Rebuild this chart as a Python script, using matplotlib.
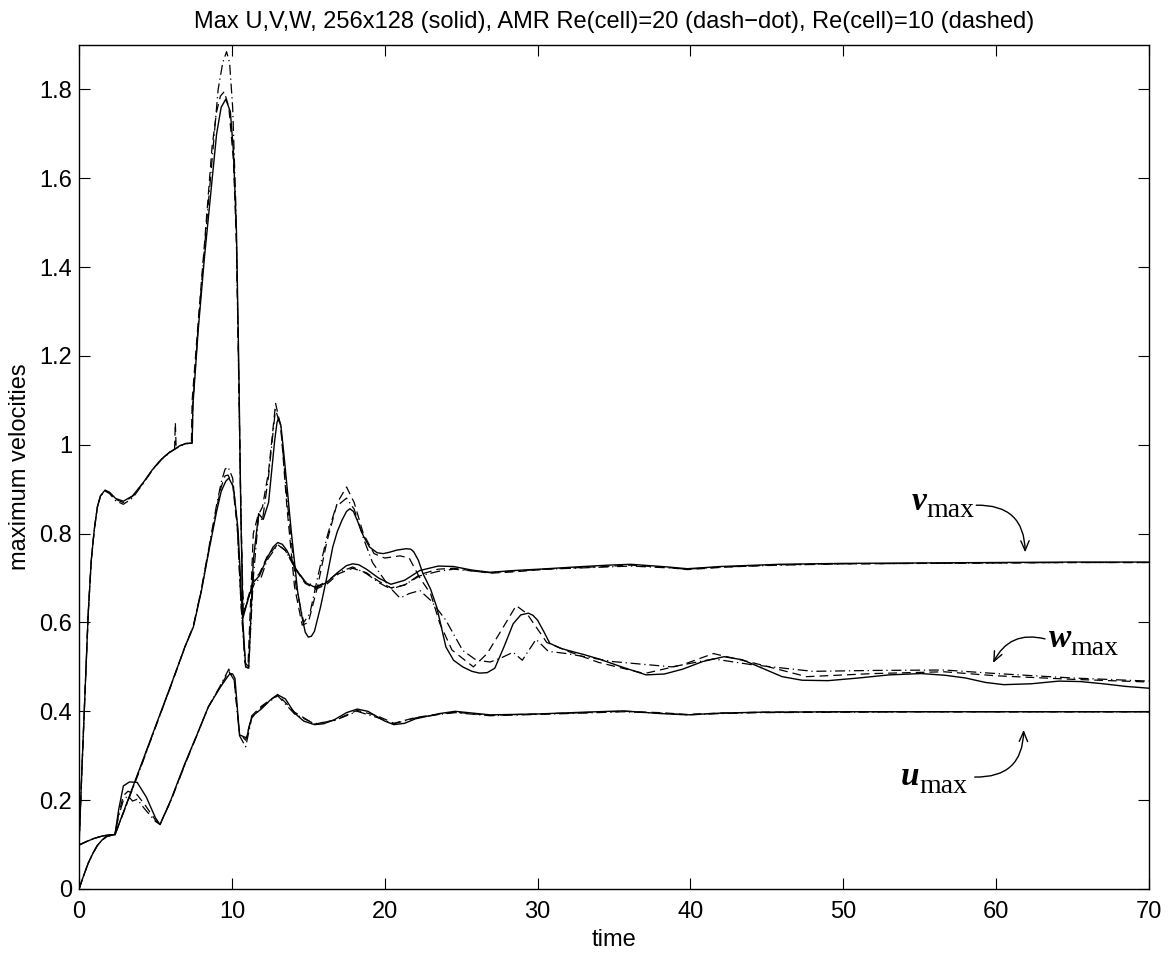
import matplotlib
matplotlib.use('Agg')
import matplotlib.pyplot as plt
import numpy as np

# ---- v_max ----
t_v = [0, 0.2, 0.4, 0.6, 0.8, 1.0, 1.2, 1.4, 1.7, 2.0,
       2.4, 2.9, 3.5, 4.2, 4.8, 5.4, 6.0, 6.6, 7.0, 7.4,
       7.45, 7.8, 8.2, 8.6, 9.0, 9.3, 9.6, 9.9, 10.1, 10.3,
       10.45, 10.58, 10.72, 11.0, 11.4, 11.8, 12.3, 12.7, 13.0, 13.3,
       13.6, 14.2, 14.8, 15.5, 16.2, 16.9, 17.5, 17.9, 18.3, 18.8,
       19.6, 20.4, 21.3, 22.3, 23.5, 24.5, 25.7, 26.9, 28.5, 30.6,
       33.0, 34.6, 36.1, 38.5, 39.8, 42.0, 45.8, 50.0, 55.0, 60.0,
       65.0, 70.0]
v_uni = [0.10, 0.28, 0.45, 0.62, 0.74, 0.81, 0.86, 0.885, 0.898, 0.893,
         0.879, 0.873, 0.885, 0.915, 0.944, 0.968, 0.985, 0.998, 1.003, 1.004,
         1.09, 1.26, 1.42, 1.56, 1.70, 1.76, 1.778, 1.75, 1.66, 1.48,
         1.18, 0.86, 0.61, 0.645, 0.69, 0.705, 0.745, 0.77, 0.78, 0.776,
         0.762, 0.72, 0.69, 0.678, 0.69, 0.712, 0.728, 0.732, 0.73, 0.72,
         0.70, 0.686, 0.695, 0.717, 0.727, 0.726, 0.718, 0.713, 0.717, 0.721,
         0.726, 0.729, 0.731, 0.725, 0.721, 0.726, 0.731, 0.733, 0.734, 0.735,
         0.736, 0.736]

t_v_amr = [0, 0.2, 0.4, 0.6, 0.8, 1.0, 1.2, 1.4, 1.7, 2.0, 2.4, 2.9, 3.5, 4.2, 4.8, 5.4, 6.0, 6.6, 7.0, 7.4,
           7.45, 7.8, 8.2, 8.6, 9.1, 9.4, 9.65, 9.85, 10.05, 10.25, 10.4, 10.55, 10.7, 10.85, 11.1, 11.5, 11.9, 12.3, 13.0, 13.5,
           14.2, 14.8, 15.5, 16.2, 17.0, 17.9, 18.8, 19.6, 20.4, 21.3, 22.3, 23.5, 24.5, 26.9, 28.5, 30.6, 33.0, 36.1, 38.5, 39.8,
           42.0, 45.8, 50.0, 55.0, 60.0, 65.0, 70.0]
v_amr = [0.10, 0.28, 0.45, 0.62, 0.74, 0.81, 0.86, 0.884, 0.896, 0.89,
         0.874, 0.866, 0.88, 0.913, 0.943, 0.967, 0.984, 0.997, 1.002, 1.004,
         1.09, 1.27, 1.44, 1.60, 1.80, 1.86, 1.885, 1.86, 1.76, 1.55,
         1.25, 0.92, 0.66, 0.63, 0.655, 0.69, 0.70, 0.74, 0.775, 0.762,
         0.72, 0.692, 0.68, 0.692, 0.713, 0.725, 0.71, 0.69, 0.675, 0.685,
         0.705, 0.715, 0.72, 0.712, 0.716, 0.72, 0.723, 0.727, 0.723, 0.72,
         0.725, 0.729, 0.732, 0.733, 0.734, 0.735, 0.735]

t_v_re10 = [0, 0.2, 0.4, 0.6, 0.8, 1.0, 1.2, 1.4, 1.7, 2.0, 2.4, 2.9, 3.5, 4.2, 4.8, 5.4, 6.0, 6.25, 6.3, 6.35,
            6.6, 7.0, 7.35, 7.4, 7.8, 8.2, 8.7, 9.0, 9.25, 9.5, 9.8, 10.1, 10.3, 10.45, 10.6, 10.75, 11.0, 11.4, 11.8, 12.3,
            13.0, 13.5, 14.2, 14.8, 15.5, 16.2, 17.0, 17.9, 18.8, 19.6, 20.4, 21.3, 22.3, 23.5, 24.5, 26.9, 28.5, 30.6, 33.0, 36.1,
            38.5, 39.8, 42.0, 45.8, 50.0, 55.0, 60.0, 65.0, 70.0]
v_re10 = [0.10, 0.28, 0.45, 0.62, 0.74, 0.81, 0.86, 0.885, 0.897, 0.892,
          0.877, 0.87, 0.884, 0.914, 0.944, 0.968, 0.986, 0.99, 1.05, 0.995,
          0.998, 1.003, 1.004, 1.10, 1.28, 1.45, 1.67, 1.75, 1.785, 1.795,
          1.76, 1.64, 1.45, 1.15, 0.83, 0.615, 0.65, 0.695, 0.71, 0.748,
          0.776, 0.762, 0.718, 0.688, 0.675, 0.686, 0.71, 0.722, 0.712, 0.693,
          0.678, 0.684, 0.708, 0.72, 0.722, 0.711, 0.714, 0.72, 0.724, 0.729,
          0.724, 0.719, 0.724, 0.73, 0.732, 0.733, 0.734, 0.735, 0.735]

# ---- w_max ----
t_w = [0, 0.5, 1.0, 1.5, 2.0, 2.35, 3.0, 4.0, 5.0, 6.0,
       6.93, 7.48, 8.0, 8.46, 9.0, 9.3, 9.6, 9.8, 10.1, 10.4,
       10.65, 10.9, 11.1, 11.4, 11.75, 12.05, 12.4, 12.6, 12.8, 12.95,
       13.05, 13.2, 13.4, 13.65, 13.9, 14.3, 14.6, 14.8, 15.0, 15.2,
       15.4, 15.8, 16.2, 16.6, 16.9, 17.2, 17.5, 17.72, 17.95, 18.2,
       18.6, 19.0, 19.5, 19.9, 20.3, 20.8, 21.4, 21.7, 21.9, 22.2,
       22.5, 23.0, 23.4, 23.7, 24.0, 24.5, 25.1, 25.7, 26.2, 26.7,
       27.2, 27.8, 28.4, 28.9, 29.4, 29.7, 30.0, 30.4, 30.8, 31.5,
       32.0, 33.0, 34.0, 35.5, 37.1, 38.3, 39.5, 40.8, 42.2, 43.4,
       44.5, 46.0, 47.3, 49.0, 51.0, 53.0, 55.1, 56.7, 58.0, 59.3,
       60.5, 62.3, 64.1, 65.5, 67.0, 68.5, 70.0]
w_uni = [0.099, 0.107, 0.114, 0.119, 0.122, 0.122, 0.182, 0.274, 0.366, 0.458,
         0.545, 0.59, 0.67, 0.755, 0.85, 0.895, 0.918, 0.925, 0.905, 0.81,
         0.64, 0.50, 0.497, 0.74, 0.845, 0.832, 0.87, 0.94, 1.01, 1.05,
         1.06, 1.045, 0.98, 0.89, 0.80, 0.67, 0.61, 0.578, 0.567, 0.569,
         0.58, 0.635, 0.70, 0.77, 0.805, 0.83, 0.85, 0.856, 0.85, 0.83,
         0.795, 0.77, 0.757, 0.755, 0.758, 0.763, 0.766, 0.765, 0.759, 0.74,
         0.71, 0.675, 0.635, 0.59, 0.545, 0.515, 0.50, 0.49, 0.486, 0.487,
         0.497, 0.545, 0.597, 0.617, 0.621, 0.616, 0.605, 0.58, 0.553, 0.542,
         0.537, 0.528, 0.518, 0.50, 0.482, 0.484, 0.495, 0.512, 0.523, 0.516,
         0.50, 0.478, 0.470, 0.469, 0.475, 0.482, 0.485, 0.481, 0.475, 0.465,
         0.46, 0.462, 0.468, 0.467, 0.462, 0.456, 0.452]

t_w_amr = [0, 0.5, 1.0, 1.5, 2.0, 2.35, 3.0, 4.0, 5.0, 6.0, 6.93, 7.48, 8.0, 8.46, 9.0, 9.3, 9.55, 9.75, 10.05, 10.35,
           10.6, 10.85, 11.1, 11.4, 11.75, 12.0, 12.4, 12.85, 13.2, 13.6, 14.2, 14.7, 15.1, 15.6, 16.2, 16.8, 17.5, 18.0, 18.6, 19.2,
           19.7, 20.3, 21.0, 21.6, 22.3, 23.0, 24.0, 25.1, 26.0, 26.9, 27.6, 28.4, 29.0, 29.9, 30.7, 31.9, 34.9, 38.8, 41.5, 44.0,
           48.0, 52.0, 56.6, 60.0, 65.0, 70.0]
w_amr = [0.099, 0.107, 0.114, 0.119, 0.122, 0.122, 0.18, 0.27, 0.364, 0.456,
         0.545, 0.592, 0.675, 0.762, 0.865, 0.915, 0.945, 0.95, 0.925, 0.82,
         0.64, 0.51, 0.50, 0.70, 0.84, 0.83, 0.93, 1.08, 1.04, 0.88,
         0.68, 0.60, 0.62, 0.70, 0.79, 0.86, 0.88, 0.855, 0.79, 0.735,
         0.71, 0.68, 0.655, 0.665, 0.672, 0.65, 0.605, 0.537, 0.515, 0.511,
         0.52, 0.533, 0.515, 0.562, 0.535, 0.53, 0.512, 0.50, 0.518, 0.505,
         0.49, 0.492, 0.493, 0.485, 0.475, 0.468]

t_w_re10 = [0, 0.5, 1.0, 1.5, 2.0, 2.35, 3.0, 4.0, 5.0, 6.0, 6.93, 7.48, 8.0, 8.46, 9.0, 9.3, 9.55, 9.75, 10.05, 10.35,
            10.6, 10.9, 11.05, 11.4, 11.7, 12.0, 12.4, 12.86, 13.2, 13.6, 14.1, 14.6, 15.0, 15.6, 16.2, 16.9, 17.5, 18.0, 18.6, 19.3,
            20.0, 21.0, 21.6, 22.3, 23.0, 23.6, 24.4, 25.8, 26.7, 27.5, 28.6, 29.3, 29.9, 30.6, 32.0, 34.0, 37.0, 39.5, 41.5, 44.0,
            47.6, 52.0, 56.6, 60.0, 65.0, 70.0]
w_re10 = [0.099, 0.107, 0.114, 0.119, 0.122, 0.122, 0.181, 0.272, 0.365, 0.457,
          0.546, 0.592, 0.672, 0.758, 0.858, 0.905, 0.93, 0.932, 0.91, 0.815,
          0.64, 0.50, 0.498, 0.80, 0.84, 0.86, 0.94, 1.093, 1.04, 0.86,
          0.68, 0.594, 0.60, 0.68, 0.78, 0.87, 0.905, 0.87, 0.80, 0.755,
          0.745, 0.75, 0.745, 0.70, 0.665, 0.598, 0.538, 0.50, 0.53, 0.575,
          0.638, 0.62, 0.59, 0.555, 0.535, 0.51, 0.485, 0.505, 0.53, 0.51,
          0.478, 0.485, 0.489, 0.48, 0.472, 0.466]

# ---- u_max ----
t_u = [0, 0.3, 0.6, 0.9, 1.2, 1.5, 1.8, 2.35, 2.6, 2.9,
       3.3, 3.8, 4.4, 5.0, 5.3, 6.0, 6.93, 7.7, 8.46, 9.2,
       9.6, 9.87, 10.05, 10.2, 10.5, 10.96, 11.3, 11.95, 12.5, 13.0,
       13.5, 14.1, 14.7, 15.4, 16.0, 16.7, 17.5, 18.2, 18.9, 19.5,
       20.0, 20.6, 21.3, 22.0, 23.6, 24.6, 26.9, 30.0, 33.0, 35.6,
       38.0, 39.8, 42.0, 44.6, 50.0, 55.0, 60.0, 65.0, 70.0]
u_uni = [0.0, 0.03, 0.058, 0.08, 0.098, 0.11, 0.118, 0.123, 0.18, 0.232,
         0.241, 0.24, 0.207, 0.16, 0.145, 0.20, 0.283, 0.346, 0.41, 0.452,
         0.472, 0.485, 0.484, 0.474, 0.347, 0.34, 0.388, 0.406, 0.425, 0.437,
         0.428, 0.396, 0.378, 0.37, 0.372, 0.381, 0.397, 0.405, 0.40, 0.388,
         0.378, 0.37, 0.373, 0.383, 0.395, 0.40, 0.392, 0.394, 0.398, 0.401,
         0.395, 0.392, 0.396, 0.398, 0.399, 0.399, 0.399, 0.399, 0.399]

t_u_amr = [0, 0.3, 0.6, 0.9, 1.2, 1.5, 1.8, 2.35, 2.6, 2.9, 3.2, 3.5, 3.8, 4.3, 5.0, 5.3, 6.0, 6.93, 7.7, 8.46,
           9.2, 9.8, 10.15, 10.5, 10.9, 11.3, 11.95, 13.0, 14.1, 15.4, 16.7, 18.2, 19.5, 20.6, 22.0, 23.6, 24.6, 26.9, 30.0, 33.0,
           35.6, 38.0, 39.8, 42.0, 44.6, 50.0, 55.0, 60.0, 65.0, 70.0]
u_amr = [0.0, 0.03, 0.058, 0.08, 0.098, 0.11, 0.118, 0.123, 0.165, 0.20,
         0.21, 0.198, 0.202, 0.18, 0.152, 0.145, 0.198, 0.28, 0.345, 0.41,
         0.455, 0.495, 0.47, 0.345, 0.32, 0.385, 0.41, 0.435, 0.394, 0.372,
         0.379, 0.40, 0.386, 0.372, 0.385, 0.393, 0.397, 0.39, 0.393, 0.396,
         0.399, 0.396, 0.392, 0.395, 0.397, 0.398, 0.399, 0.399, 0.399, 0.399]

t_u_re10 = [0, 0.3, 0.6, 0.9, 1.2, 1.5, 1.8, 2.35, 2.6, 2.9, 3.2, 3.5, 3.8, 4.3, 5.0, 5.3, 6.0, 6.93, 7.7, 8.46,
            9.2, 9.8, 10.15, 10.5, 10.9, 11.3, 11.95, 13.0, 14.1, 15.4, 16.7, 18.2, 19.5, 20.6, 22.0, 23.6, 24.6, 26.9, 30.0, 33.0,
            35.6, 38.0, 39.8, 42.0, 44.6, 50.0, 55.0, 60.0, 65.0, 70.0]
u_re10 = [0.0, 0.03, 0.058, 0.08, 0.098, 0.11, 0.118, 0.123, 0.17, 0.21,
          0.22, 0.216, 0.212, 0.19, 0.155, 0.146, 0.199, 0.281, 0.346, 0.41,
          0.453, 0.49, 0.47, 0.35, 0.335, 0.39, 0.412, 0.438, 0.398, 0.371,
          0.38, 0.402, 0.39, 0.373, 0.386, 0.394, 0.398, 0.391, 0.394, 0.397,
          0.40, 0.397, 0.393, 0.396, 0.398, 0.399, 0.399, 0.399, 0.399, 0.399]

x_ticks = [0, 10, 20, 30, 40, 50, 60, 70]
y_ticks = [0, 0.2, 0.4, 0.6, 0.8, 1.0, 1.2, 1.4, 1.6, 1.8]
y_ticklabels = ['0', '0.2', '0.4', '0.6', '0.8', '1', '1.2', '1.4', '1.6', '1.8']

plt.rcParams['font.family'] = ['Liberation Sans', 'DejaVu Sans']

fig = plt.figure(figsize=(11.71, 9.56), dpi=100)
ax = fig.add_axes([0.0675, 0.0701, 0.9137, 0.8828])

solid = dict(color='k', lw=1.0, ls='-')
dashdot = dict(color='k', lw=0.9, ls=(0, (8, 3, 1, 3)))
dashed = dict(color='k', lw=0.9, ls=(0, (7, 4)))

ax.plot(t_u, u_uni, **solid)
ax.plot(t_v, v_uni, **solid)
ax.plot(t_w, w_uni, **solid)
ax.plot(t_u_amr, u_amr, **dashdot)
ax.plot(t_v_amr, v_amr, **dashdot)
ax.plot(t_w_amr, w_amr, **dashdot)
ax.plot(t_u_re10, u_re10, **dashed)
ax.plot(t_v_re10, v_re10, **dashed)
ax.plot(t_w_re10, w_re10, **dashed)

ax.set_xlim(0, 70)
ax.set_ylim(0, 1.9)
ax.set_xticks(x_ticks)
ax.set_yticks(y_ticks)
ax.set_yticklabels(y_ticklabels)
ax.tick_params(direction='in', length=8, width=0.8, top=True, right=True, labelsize=17)
ax.tick_params(axis='x', pad=9)
ax.tick_params(axis='y', pad=5)
for s in ax.spines.values():
    s.set_linewidth(1.0)

ax.set_title('Max U,V,W, 256x128 (solid), AMR Re(cell)=20 (dash\u2212dot), Re(cell)=10 (dashed)',
             fontsize=17, pad=12)
ax.set_xlabel('time', fontsize=17, labelpad=4)
ax.set_ylabel('maximum velocities', fontsize=17, labelpad=6)

# curve labels: bold italic letter + roman "max" subscript
labels = [('v', 55.46, 0.853, 0.837), ('w', 64.88, 0.545, 0.527), ('u', 55.0, 0.234, 0.216)]
for letter, tx, yb, ys in labels:
    ax.text(tx, yb, letter, ha='right', va='baseline', fontsize=24, fontweight='bold',
            fontstyle='italic', family='Liberation Serif')
    ax.text(tx, ys, 'max', ha='left', va='baseline', fontsize=20, family='Liberation Serif')

arrow = dict(arrowstyle='->,head_length=0.7,head_width=0.3', color='k', lw=1.0, shrinkA=0, shrinkB=0)
ax.annotate('', xy=(61.9, 0.758), xytext=(58.7, 0.864),
            arrowprops=dict(connectionstyle='arc3,rad=-0.5', **arrow))
ax.annotate('', xy=(59.8, 0.509), xytext=(63.2, 0.563),
            arrowprops=dict(connectionstyle='arc3,rad=0.4', **arrow))
ax.annotate('', xy=(61.8, 0.358), xytext=(58.6, 0.252),
            arrowprops=dict(connectionstyle='arc3,rad=0.5', **arrow))

fig.savefig('out.png', dpi=100)
